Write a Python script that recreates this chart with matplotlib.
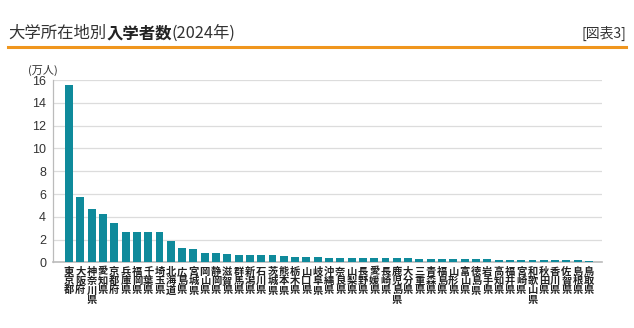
import numpy as np
import matplotlib.pyplot as plt

plt.rcParams['font.family'] = ['Noto Sans CJK JP', 'DejaVu Sans']

# 都道府県別 入学者数（万人）
prefs = ['東京都', '大阪府', '神奈川県', '愛知県', '京都府', '兵庫県', '福岡県', '千葉県',
         '埼玉県', '北海道', '広島県', '宮城県', '岡山県', '静岡県', '滋賀県', '群馬県',
         '新潟県', '石川県', '茨城県', '熊本県', '栃木県', '山口県', '岐阜県', '沖縄県',
         '奈良県', '山梨県', '長野県', '愛媛県', '長崎県', '鹿児島県', '大分県', '三重県',
         '青森県', '福島県', '山形県', '富山県', '徳島県', '岩手県', '高知県', '福井県',
         '宮崎県', '和歌山県', '秋田県', '香川県', '佐賀県', '島根県', '鳥取県']
students = [15.58, 5.72, 4.72, 4.25, 3.50, 2.69, 2.68, 2.68, 2.68, 1.90, 1.27, 1.17,
            0.86, 0.80, 0.76, 0.70, 0.68, 0.67, 0.66, 0.55, 0.50, 0.47, 0.45, 0.43,
            0.42, 0.41, 0.40, 0.39, 0.39, 0.38, 0.37, 0.35, 0.34, 0.34, 0.30, 0.29,
            0.29, 0.28, 0.26, 0.26, 0.25, 0.23, 0.22, 0.21, 0.19, 0.18, 0.16]
yticks = [0, 2, 4, 6, 8, 10, 12, 14, 16]

fig = plt.figure(figsize=(6.34, 3.28), dpi=100)
ax = fig.add_axes([0.0836, 0.1997, 0.8659, 0.5563])

x = np.arange(len(prefs))
ax.bar(x, students, width=0.7, color='#0f8a9b', zorder=3)

ax.set_xlim(-1.42, 47.15)
ax.set_ylim(0, 16)
ax.set_yticks(yticks)
ax.set_yticklabels([str(v) for v in yticks], fontsize=9, color='#333333',
                   family=['Liberation Sans', 'DejaVu Sans'])
ax.tick_params(axis='y', length=0, pad=5)
ax.grid(axis='y', color='#dcdcdc', linewidth=0.9, zorder=0)

# 縦書きの県名ラベル
ax.set_xticks(x)
ax.set_xticklabels(['\n'.join(p) for p in prefs], fontsize=7.4, fontweight='bold',
                   linespacing=0.92, color='#222222', va='top')
ax.tick_params(axis='x', length=0, pad=3)

for s in ['top', 'right']:
    ax.spines[s].set_visible(False)
ax.spines['left'].set_color('#bbbbbb')
ax.spines['bottom'].set_color('#bbbbbb')
ax.spines['left'].set_linewidth(0.9)
ax.spines['bottom'].set_linewidth(1.2)

fig.text(0.044, 0.785, '(万人)', fontsize=8, color='#333333', ha='left', va='center')

# タイトル（一部太字）
ty = 0.898
t1 = fig.text(0.013, ty, '大学所在地別', fontsize=11.8, color='#333333', va='center')
t2 = fig.text(0, 0, '入学者数', fontsize=11.8, fontweight='bold', color='#222222',
              va='center')
t3 = fig.text(0, 0, '(2024年)', fontsize=11.8, color='#333333', va='center')
fig.canvas.draw()
r = fig.canvas.get_renderer()
bb = t1.get_window_extent(r)
t2.set_position((bb.x1 / fig.bbox.width, ty))
bb = t2.get_window_extent(r)
t3.set_position((bb.x1 / fig.bbox.width, ty))

fig.text(0.988, ty, '[図表3]', fontsize=10, color='#333333', ha='right', va='center')
fig.add_artist(plt.Line2D([0.013, 0.988], [0.857, 0.857], color='#f0961e',
                          linewidth=2.2, transform=fig.transFigure))

fig.savefig('out.png', dpi=100)
